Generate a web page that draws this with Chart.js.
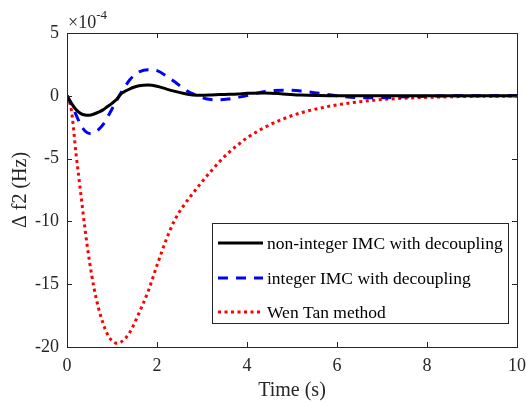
<!DOCTYPE html>
<html>
<head>
<meta charset="utf-8">
<script src="https://cdn.jsdelivr.net/npm/chart.js@4/dist/chart.umd.min.js"></script>
<style>
  html, body { margin: 0; padding: 0; background: #fff; }
  #wrap { width: 526px; height: 403px; }
</style>
</head>
<body>
<div id="wrap"><canvas id="c"></canvas></div>
<script>
// time samples (s)
const times = [0, 0.1, 0.2, 0.3, 0.4, 0.5, 0.6, 0.7, 0.8, 0.9, 1.0, 1.1, 1.2, 1.3, 1.4, 1.5, 1.6,
    1.8, 2.0, 2.2, 2.4, 2.6, 2.8, 3.0, 3.2, 3.4, 3.6, 3.8, 4.0, 4.4, 4.8, 5.2, 5.6, 6.0,
    6.5, 7, 7.5, 8, 9, 10];

// delta f2, in units of 1e-4 Hz
const nonIntegerIMC = [0, -0.6, -1.1, -1.4, -1.53, -1.55, -1.45, -1.3, -1.12, -0.85, -0.6, -0.3,
    0.15, 0.38, 0.56, 0.7, 0.8, 0.86, 0.76, 0.55, 0.35, 0.18, 0.07, 0.05, 0.07, 0.1, 0.12,
    0.15, 0.2, 0.22, 0.15, 0.06, 0.02, 0, 0, 0, 0, 0, 0, 0];
const integerIMC = [0, -0.7, -1.5, -2.3, -2.8, -3.0, -2.95, -2.7, -2.3, -1.7, -1.05, -0.4,
    0.25, 0.8, 1.3, 1.65, 1.9, 2.08, 2.0, 1.6, 1.1, 0.55, 0.15, -0.15, -0.3, -0.32, -0.25,
    -0.12, 0.02, 0.35, 0.45, 0.38, 0.2, 0.0, -0.15, -0.15, -0.08, -0.03, 0, 0];
const wenTan = [0, -1.2, -4.6, -7.6, -10.6, -13.2, -15.3, -16.9, -18.1, -19.0, -19.5, -19.7,
    -19.6, -19.3, -18.8, -18.1, -17.3, -15.6, -13.5, -11.5, -9.85, -8.7, -7.75, -6.85, -6.0,
    -5.2, -4.5, -3.9, -3.35, -2.5, -1.85, -1.35, -1.0, -0.72, -0.47, -0.3, -0.19, -0.12, -0.05, -0.02];

const seriesNames = ["non-integer IMC with decoupling", "integer IMC with decoupling", "Wen Tan method"];

const serif = "'Liberation Serif', 'Times New Roman', serif";
const axisColor = "#262626";

function pts(vals) {
    return times.map((t, i) => ({ x: t, y: vals[i] }));
}

// box, inward ticks, exponent and legend (matlab look)
const frame = {
    id: "frame",
    afterDraw(chart) {
        const ctx = chart.ctx;
        const a = chart.chartArea;
        const xs = chart.scales.x, ys = chart.scales.y;
        ctx.save();
        ctx.strokeStyle = axisColor;
        ctx.lineWidth = 1;
        ctx.strokeRect(Math.round(a.left) + 0.5, Math.round(a.top) + 0.5,
            Math.round(a.right - a.left), Math.round(a.bottom - a.top));
        ctx.beginPath();
        xs.ticks.forEach(t => {
            const px = Math.round(xs.getPixelForValue(t.value)) + 0.5;
            ctx.moveTo(px, a.bottom); ctx.lineTo(px, a.bottom - 5);
            ctx.moveTo(px, a.top); ctx.lineTo(px, a.top + 5);
        });
        ys.ticks.forEach(t => {
            const py = Math.round(ys.getPixelForValue(t.value)) + 0.5;
            ctx.moveTo(a.left, py); ctx.lineTo(a.left + 5, py);
            ctx.moveTo(a.right, py); ctx.lineTo(a.right - 5, py);
        });
        ctx.stroke();

        // x10^-4
        ctx.fillStyle = axisColor;
        ctx.textBaseline = "alphabetic";
        ctx.font = "18px " + serif;
        ctx.fillText("\u00d710", a.left + 1, a.top - 5);
        const w = ctx.measureText("\u00d710").width;
        ctx.font = "13px " + serif;
        ctx.fillText("-4", a.left + 1 + w, a.top - 14);

        // legend
        const bx = 212, by = 223, bw = 296, bh = 100;
        ctx.fillStyle = "#fff";
        ctx.fillRect(bx, by, bw, bh);
        ctx.strokeStyle = axisColor;
        ctx.strokeRect(bx + 0.5, by + 0.5, bw, bh);
        const rows = [243, 278, 312];
        ctx.font = "17.5px " + serif;
        ctx.textBaseline = "middle";
        chart.data.datasets.forEach((ds, i) => {
            ctx.beginPath();
            ctx.strokeStyle = ds.borderColor;
            ctx.lineWidth = ds.borderWidth;
            ctx.setLineDash(ds.borderDash || []);
            ctx.moveTo(218, rows[i]);
            ctx.lineTo(263, rows[i]);
            ctx.stroke();
            ctx.setLineDash([]);
            ctx.fillStyle = "#000";
            ctx.fillText(ds.label, 267, rows[i] + 1);
        });
        ctx.restore();
    }
};

new Chart(document.getElementById("c"), {
    type: "line",
    data: {
        datasets: [
            {
                label: seriesNames[0],
                data: pts(nonIntegerIMC),
                borderColor: "#000000",
                borderWidth: 3,
            },
            {
                label: seriesNames[1],
                data: pts(integerIMC),
                borderColor: "#0000ff",
                borderWidth: 3,
                borderDash: [10, 8],
            },
            {
                label: seriesNames[2],
                data: pts(wenTan),
                borderColor: "#ff0000",
                borderWidth: 3,
                borderDash: [3, 3.5],
            },
        ],
    },
    options: {
        responsive: true,
        maintainAspectRatio: false,
        animation: false,
        layout: { padding: { top: 33, right: 9, bottom: 0, left: 0 } },
        elements: {
            point: { radius: 0 },
            line: { cubicInterpolationMode: "monotone", borderCapStyle: "butt", fill: false },
        },
        scales: {
            x: {
                type: "linear",
                min: 0,
                max: 10,
                grid: { display: false },
                border: { display: false },
                ticks: { stepSize: 2, color: axisColor, font: { family: serif, size: 18 }, padding: 0 },
                title: { display: true, text: "Time (s)", color: axisColor, font: { family: serif, size: 20 }, padding: { top: 0, bottom: 0 } },
                afterFit(scale) { scale.height = 56; },
            },
            y: {
                min: -20,
                max: 5,
                grid: { display: false },
                border: { display: false },
                ticks: { stepSize: 5, color: axisColor, font: { family: serif, size: 18 }, padding: 0 },
                title: { display: true, text: "\u0394 f2 (Hz)", color: axisColor, font: { family: serif, size: 20 }, padding: { top: 9, bottom: 0 } },
                afterFit(scale) { scale.width = 67; },
            },
        },
        plugins: {
            legend: { display: false },
            tooltip: { enabled: false },
        },
    },
    plugins: [frame],
});
</script>
</body>
</html>
